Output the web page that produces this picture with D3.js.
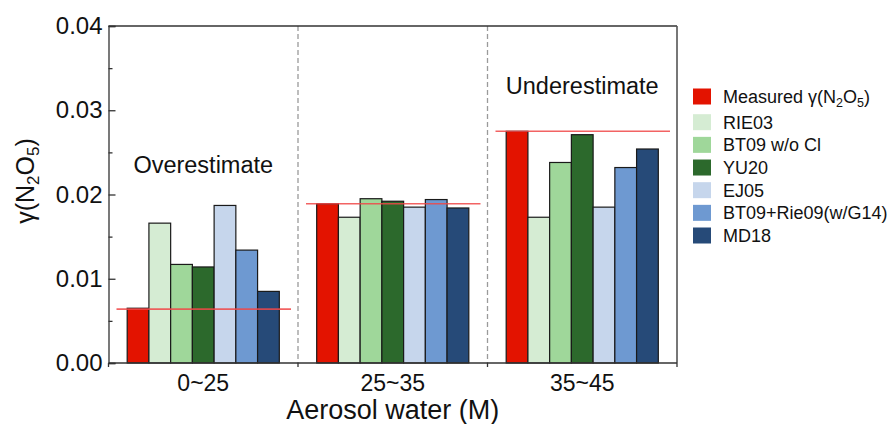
<!DOCTYPE html>
<html>
<head>
<meta charset="utf-8">
<script src="https://cdn.jsdelivr.net/npm/d3@7"></script>
<style>
    body { margin: 0; background: #fff; }
    svg { font-family: "Liberation Sans", Arial, sans-serif; }
    .axis path, .axis line { stroke: #333; stroke-width: 1.3px; }
    .axis text { fill: #111; }
</style>
</head>
<body>
<div id="chart"></div>
<script>
// categories (aerosol water bins)
const categories = ["0~25", "25~35", "35~45"];

// series names shown in the legend
const seriesNames = ["Measured", "RIE03", "BT09 w/o Cl", "YU20", "EJ05", "BT09+Rie09(w/G14)", "MD18"];
const seriesColors = ["#e31300", "#d5ecd3", "#9fd79a", "#2c692c", "#c6d6ec", "#6e99d1", "#264a78"];

// gamma(N2O5) values per series, one per category
const measured = [0.0065, 0.0189, 0.0275];
const rie03    = [0.0166, 0.0173, 0.0173];
const bt09     = [0.0117, 0.0195, 0.0238];
const yu20     = [0.0114, 0.0192, 0.0271];
const ej05     = [0.0187, 0.0185, 0.0185];
const bt09rie  = [0.0134, 0.0194, 0.0232];
const md18     = [0.0085, 0.0184, 0.0254];

// measured reference lines
const measuredLine = [0.0064, 0.0189, 0.0275];

const yTicks = [0, 0.01, 0.02, 0.03, 0.04];
const yMinorTicks = [0.005, 0.015, 0.025, 0.035];

const annotations = [
    { cat: "0~25", value: 0.0226, text: "Overestimate" },
    { cat: "35~45", value: 0.0319, text: "Underestimate" }
];

const allSeries = [measured, rie03, bt09, yu20, ej05, bt09rie, md18];

const margin = { top: 26, right: 214, bottom: 61, left: 108.5 };
const totalW = 891, totalH = 424;
const width = totalW - margin.left - margin.right;
const height = totalH - margin.top - margin.bottom;

const svg = d3.select("#chart")
    .append("svg")
    .attr("width", totalW)
    .attr("height", totalH);

const g = svg.append("g")
    .attr("transform", `translate(${margin.left}, ${margin.top})`);

const x = d3.scaleBand()
    .domain(categories)
    .range([0, width])
    .paddingInner(0)
    .paddingOuter(0);

const xInner = d3.scaleBand()
    .domain(seriesNames)
    .range([0, x.bandwidth()])
    .paddingOuter(0.86)
    .paddingInner(0);

const y = d3.scaleLinear()
    .domain([0, 0.04])
    .range([height, 0]);

// group separators (dashed)
g.selectAll(".sep")
    .data(categories.slice(1))
    .enter().append("line")
    .attr("class", "sep")
    .attr("x1", d => x(d)).attr("x2", d => x(d))
    .attr("y1", 0).attr("y2", height)
    .attr("stroke", "#9a9a9a")
    .attr("stroke-width", 1.3)
    .attr("stroke-dasharray", "5,3");

// bars
const barData = [];
categories.forEach((c, ci) => {
    seriesNames.forEach((s, si) => {
        barData.push({ cat: c, series: s, color: seriesColors[si], value: allSeries[si][ci] });
    });
});

g.selectAll(".bar")
    .data(barData)
    .enter().append("rect")
    .attr("class", "bar")
    .attr("x", d => x(d.cat) + xInner(d.series))
    .attr("y", d => y(d.value))
    .attr("width", xInner.bandwidth())
    .attr("height", d => height - y(d.value))
    .attr("fill", d => d.color)
    .attr("stroke", "#1a1a1a")
    .attr("stroke-width", 1.2);

// measured reference lines
g.selectAll(".ref")
    .data(categories)
    .enter().append("line")
    .attr("class", "ref")
    .attr("x1", d => x(d) + 8)
    .attr("x2", d => x(d) + x.bandwidth() - 7)
    .attr("y1", (d, i) => y(measuredLine[i]))
    .attr("y2", (d, i) => y(measuredLine[i]))
    .attr("stroke", "#f04848")
    .attr("stroke-opacity", 0.85)
    .attr("stroke-width", 1.6);

// annotations
g.selectAll(".note")
    .data(annotations)
    .enter().append("text")
    .attr("class", "note")
    .attr("x", d => x(d.cat) + x.bandwidth() / 2)
    .attr("y", d => y(d.value))
    .attr("text-anchor", "middle")
    .style("font-size", "23.5px")
    .attr("fill", "#111")
    .text(d => d.text);

// frame: top and right
g.append("line")
    .attr("x1", 0).attr("x2", width).attr("y1", 0).attr("y2", 0)
    .attr("stroke", "#333").attr("stroke-width", 1.3);
g.append("line")
    .attr("x1", width).attr("x2", width).attr("y1", 0).attr("y2", height)
    .attr("stroke", "#555").attr("stroke-width", 1.6);

// y axis, ticks point inward
const yAxis = g.append("g")
    .attr("class", "axis")
    .call(d3.axisLeft(y).tickValues(yTicks).tickFormat(d3.format(".2f")).tickSize(-7).tickPadding(6));
yAxis.selectAll("text").style("font-size", "24px");

g.append("g")
    .attr("class", "axis")
    .call(d3.axisLeft(y).tickValues(yMinorTicks).tickFormat("").tickSize(-4))
    .select(".domain").remove();

// x axis: labels at group centres, ticks at group edges
const xAxis = g.append("g")
    .attr("class", "axis")
    .attr("transform", `translate(0, ${height})`)
    .call(d3.axisBottom(x).tickSize(0).tickPadding(12));
xAxis.selectAll("text").style("font-size", "23px");
xAxis.select(".domain").attr("d", `M0,0H${width}`);

g.selectAll(".xedge")
    .data(categories.map(c => x(c)).concat([width]))
    .enter().append("line")
    .attr("class", "xedge")
    .attr("x1", d => d).attr("x2", d => d)
    .attr("y1", height).attr("y2", height + 4)
    .attr("stroke", "#333").attr("stroke-width", 1.3);

// axis titles
g.append("text")
    .attr("x", width / 2)
    .attr("y", height + 56)
    .attr("text-anchor", "middle")
    .style("font-size", "27px")
    .attr("fill", "#111")
    .text("Aerosol water (M)");

const yTitle = svg.append("text")
    .attr("transform", `translate(34, 181) rotate(-90)`)
    .attr("text-anchor", "middle")
    .style("font-size", "25px")
    .attr("fill", "#111");
yTitle.append("tspan").text("γ(N");
yTitle.append("tspan").attr("dy", 5).style("font-size", "17px").text("2");
yTitle.append("tspan").attr("dy", -5).text("O");
yTitle.append("tspan").attr("dy", 5).style("font-size", "17px").text("5");
yTitle.append("tspan").attr("dy", -5).text(")");

// legend
const legend = svg.append("g").attr("class", "legend");
const legendY = d3.scaleLinear().domain([1, 6]).range([122.2, 235.5]);
const rowY = i => i === 0 ? 96.5 : legendY(i);

const rows = legend.selectAll(".row")
    .data(seriesNames)
    .enter().append("g")
    .attr("class", "row")
    .attr("transform", (d, i) => `translate(693, ${rowY(i)})`);

rows.append("rect")
    .attr("x", 0).attr("y", -8)
    .attr("width", 18).attr("height", 16)
    .attr("fill", (d, i) => seriesColors[i]);

rows.each(function(d, i) {
    const t = d3.select(this).append("text")
        .attr("x", 30)
        .attr("y", 6.5)
        .style("font-size", "18px")
        .attr("fill", "#111");
    if (i === 0) {
        t.append("tspan").text("Measured γ(N");
        t.append("tspan").attr("dy", 4).style("font-size", "12.5px").text("2");
        t.append("tspan").attr("dy", -4).text("O");
        t.append("tspan").attr("dy", 4).style("font-size", "12.5px").text("5");
        t.append("tspan").attr("dy", -4).text(")");
    } else {
        t.text(d);
    }
});
</script>
</body>
</html>
